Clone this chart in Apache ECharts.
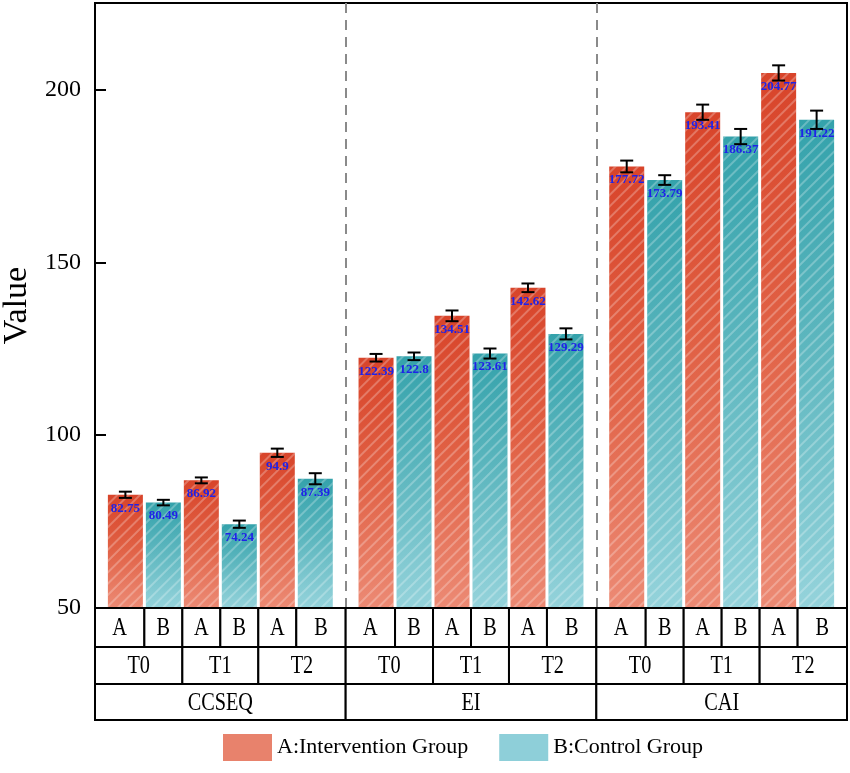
<!DOCTYPE html>
<html>
<head>
<meta charset="utf-8">
<title>Value by group</title>
<script src="https://cdn.jsdelivr.net/npm/echarts@6/dist/echarts.min.js"></script>
<style>
  html, body { margin: 0; padding: 0; background: #fff; }
  #main { width: 850px; height: 773px; }
</style>
</head>
<body>
<div id="main"></div>
<script>
// 数据
var groups = ['CCSEQ', 'EI', 'CAI'];
var times = ['T0', 'T1', 'T2'];
var arms = ['A', 'B'];
var seriesNames = ['A:Intervention Group', 'B:Control Group'];
// 按 组 x 时间 排列
var valuesA = [82.75, 86.92, 94.9, 122.39, 134.51, 142.62, 177.72, 193.41, 204.77];
var valuesB = [80.49, 74.24, 87.39, 122.8, 123.61, 129.29, 173.79, 186.37, 191.22];
var errA = [0.9, 0.85, 1.2, 1.1, 1.55, 1.25, 1.7, 2.2, 2.2];
var errB = [0.8, 1.05, 1.6, 1.1, 1.45, 1.6, 1.4, 2.2, 2.65];
var yTicks = [50, 100, 150, 200];

(function () {
  var FONT = '"Liberation Serif", "Times New Roman", serif';
  var Y_MIN = 50, Y_MAX = 225, Y_STEP = 50;
  // 每组占 6.6 个单位, 两侧各留 0.8
  var SPAN = 6.6, EDGE = 0.8;
  var ROW_TOP = [0, 39, 76];
  var ROW_H = [39, 37, 36];

  function slot(g, t, a) {
    return g * SPAN + EDGE + t * 2 + a;
  }

  var barA = [], barB = [], errData = [];
  groups.forEach(function (name, g) {
    times.forEach(function (tn, t) {
      var k = g * times.length + t;
      barA.push([slot(g, t, 0), valuesA[k]]);
      barB.push([slot(g, t, 1), valuesB[k]]);
      errData.push([slot(g, t, 0), valuesA[k] - errA[k], valuesA[k] + errA[k]]);
      errData.push([slot(g, t, 1), valuesB[k] - errB[k], valuesB[k] + errB[k]]);
    });
  });

  // 下方表格单元格
  var cells = [];
  groups.forEach(function (name, g) {
    var g0 = g * SPAN, g1 = (g + 1) * SPAN;
    times.forEach(function (tn, t) {
      arms.forEach(function (an, a) {
        var c = slot(g, t, a);
        var first = t === 0 && a === 0;
        var last = t === times.length - 1 && a === arms.length - 1;
        cells.push({ x0: first ? g0 : c - 0.5, x1: last ? g1 : c + 0.5, row: 0, text: an });
      });
      cells.push({
        x0: t === 0 ? g0 : slot(g, t, 0) - 0.5,
        x1: t === times.length - 1 ? g1 : slot(g, t, 1) + 0.5,
        row: 1, text: tn
      });
    });
    cells.push({ x0: g0, x1: g1, row: 2, text: name });
  });

  var hatch = {
    symbol: 'rect',
    symbolSize: 1,
    dashArrayX: [1, 0],
    dashArrayY: [2, 6],
    rotation: -Math.PI / 4,
    color: 'rgba(255,255,255,0.26)'
  };

  var gradA = new echarts.graphic.LinearGradient(0, 0, 0, 1, [
    { offset: 0, color: '#d8442a' },
    { offset: 0.45, color: '#e05f43' },
    { offset: 1, color: '#ec8a74' }
  ]);
  var gradB = new echarts.graphic.LinearGradient(0, 0, 0, 1, [
    { offset: 0, color: '#34a2ab' },
    { offset: 0.45, color: '#5cb6be' },
    { offset: 1, color: '#95d3db' }
  ]);

  var barLabel = {
    show: true,
    position: 'insideTop',
    distance: 7,
    color: '#1f22e8',
    fontFamily: FONT,
    fontWeight: 'bold',
    fontSize: 13,
    formatter: function (p) { return p.value[1]; }
  };

  var myChart = echarts.init(document.getElementById('main'));
  var option = {
    backgroundColor: '#fff',
    animation: false,
    grid: {
      left: 95, right: 3, top: 3, bottom: 165,
      outerBoundsMode: 'none',
      containLabel: false,
      show: true,
      borderColor: '#000',
      borderWidth: 2
    },
    legend: {
      top: 734,
      left: 223,
      padding: 0,
      itemWidth: 49,
      itemHeight: 27,
      itemGap: 31,
      icon: 'rect',
      textStyle: { fontFamily: FONT, fontSize: 22, color: '#000' },
      data: [
        { name: seriesNames[0], itemStyle: { color: '#e8826c', decal: 'none' } },
        { name: seriesNames[1], itemStyle: { color: '#8ecfd9', decal: 'none' } }
      ]
    },
    xAxis: {
      type: 'value',
      min: 0,
      max: SPAN * groups.length,
      show: false
    },
    yAxis: {
      type: 'value',
      min: Y_MIN,
      max: Y_MAX,
      interval: Y_STEP,
      name: 'Value',
      nameLocation: 'middle',
      nameGap: 57,
      nameTextStyle: { fontFamily: FONT, fontSize: 34, color: '#000' },
      axisLine: { show: true, lineStyle: { color: '#000', width: 2 } },
      axisTick: { show: true, inside: true, length: 11, lineStyle: { color: '#000', width: 2 } },
      axisLabel: {
        margin: 14,
        fontFamily: FONT,
        fontSize: 24,
        color: '#000',
        formatter: function (v) { return yTicks.indexOf(v) >= 0 ? v : ''; }
      },
      splitLine: { show: false }
    },
    series: [
      {
        name: seriesNames[0],
        type: 'bar',
        barWidth: 35,
        barGap: '-100%',
        data: barA,
        itemStyle: { color: gradA, decal: hatch },
        label: barLabel,
        markLine: {
          silent: true,
          symbol: 'none',
          label: { show: false },
          lineStyle: { color: '#8a8a8a', width: 2, type: [10, 7] },
          data: groups.slice(1).map(function (n, i) { return { xAxis: (i + 1) * SPAN }; })
        }
      },
      {
        name: seriesNames[1],
        type: 'bar',
        barWidth: 35,
        barGap: '-100%',
        data: barB,
        itemStyle: { color: gradB, decal: hatch },
        label: barLabel
      },
      {
        name: 'error',
        type: 'custom',
        z: 5,
        data: errData,
        encode: { x: 0, y: [1, 2] },
        renderItem: function (params, api) {
          var x = api.value(0);
          var lo = api.coord([x, api.value(1)]);
          var hi = api.coord([x, api.value(2)]);
          var w = 6.5;
          var st = { stroke: '#000', lineWidth: 2 };
          return {
            type: 'group',
            children: [
              { type: 'line', shape: { x1: lo[0], y1: lo[1], x2: hi[0], y2: hi[1] }, style: st },
              { type: 'line', shape: { x1: lo[0] - w, y1: lo[1], x2: lo[0] + w, y2: lo[1] }, style: st },
              { type: 'line', shape: { x1: hi[0] - w, y1: hi[1], x2: hi[0] + w, y2: hi[1] }, style: st }
            ]
          };
        }
      },
      {
        name: 'table',
        type: 'custom',
        z: 6,
        silent: true,
        data: cells.map(function (c) { return [c.x0, Y_MIN, c.x1]; }),
        encode: { x: [0, 2], y: 1 },
        renderItem: function (params, api) {
          var c = cells[params.dataIndex];
          var p0 = api.coord([c.x0, Y_MIN]);
          var p1 = api.coord([c.x1, Y_MIN]);
          var top = p0[1] + ROW_TOP[c.row];
          var h = ROW_H[c.row];
          return {
            type: 'group',
            children: [
              {
                type: 'rect',
                shape: { x: p0[0], y: top, width: p1[0] - p0[0], height: h },
                style: { fill: '#fff', stroke: '#000', lineWidth: 2 }
              },
              {
                type: 'text',
                x: (p0[0] + p1[0]) / 2,
                y: top + h / 2 + 1,
                scaleX: 0.78,
                style: {
                  text: c.text, fill: '#000', font: '26px ' + FONT,
                  align: 'center', verticalAlign: 'middle'
                }
              }
            ]
          };
        }
      }
    ]
  };

  myChart.setOption(option);
  window.addEventListener('resize', function () {
    myChart.resize();
  });
})();
</script>
</body>
</html>
